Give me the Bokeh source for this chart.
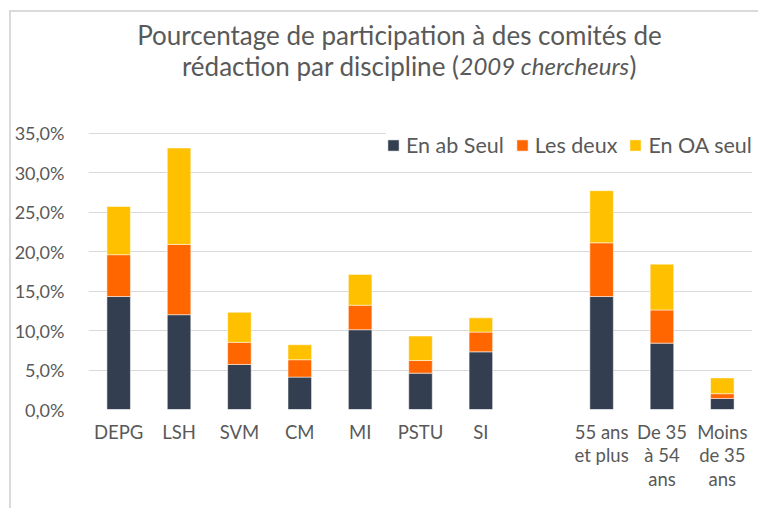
from bokeh.plotting import figure
from bokeh.models import FactorRange, Range1d, FixedTicker, Label
from bokeh.embed import file_html
from bokeh.resources import INLINE

# ---- data ----
categories = ["DEPG", "LSH", "SVM", "CM", "MI", "PSTU", "SI",
              "55 ans\net plus", "De 35\nà 54\nans", "Moins\nde 35\nans"]
gap_factor = " "
axis_factors = categories[:7] + [gap_factor] + categories[7:]

en_ab_seul = [14.3, 12.0, 5.7, 4.1, 10.1, 4.6, 7.3, 14.3, 8.4, 1.4]
les_deux = [5.3, 8.9, 2.8, 2.2, 3.1, 1.6, 2.5, 6.8, 4.2, 0.6]
en_oa_seul = [6.1, 12.2, 3.8, 1.9, 3.9, 3.1, 1.8, 6.6, 5.8, 2.0]

series_keys = ["en_ab_seul", "les_deux", "en_oa_seul"]
series_names = ["En ab Seul", "Les deux", "En OA seul"]
series_colors = ["#333F50", "#FF6600", "#FFC000"]

y_ticks = [0, 5, 10, 15, 20, 25, 30, 35]
y_tick_labels = ["0,0%", "5,0%", "10,0%", "15,0%", "20,0%", "25,0%", "30,0%", "35,0%"]

title_line1 = "Pourcentage de participation à des comités de"
title_line2_a = "rédaction par discipline ("
title_line2_b = "2009 chercheurs"
title_line2_c = ")"

FONT = "Lato"
TXT = "#595959"

# ---- layout (pixels) ----
W, H = 749, 498
BL, BR, BT, BB = 75, 8, 0, 101
FRAME_H = H - BT - BB          # 397
AXIS_PX = 276.5                # pixels from 0% to 35%
Y_MAX = y_ticks[-1]

data = dict(x=categories, en_ab_seul=en_ab_seul, les_deux=les_deux, en_oa_seul=en_oa_seul)

p = figure(
    width=W, height=H,
    x_range=FactorRange(factors=axis_factors),
    y_range=Range1d(0, Y_MAX * FRAME_H / AXIS_PX),
    output_backend="svg", toolbar_location=None,
    min_border_left=BL, min_border_right=BR, min_border_top=BT, min_border_bottom=BB,
    styles={"margin-left": "9px", "margin-top": "10px",
            "border-top": "2px solid #DADADA", "border-left": "2px solid #DADADA"},
)

p.vbar_stack(series_keys, x="x", width=0.39, source=data, color=series_colors,
             line_color="white", line_alpha=0.5, line_width=1,
             legend_label=series_names)

p.outline_line_color = None
p.background_fill_color = "white"
p.border_fill_color = "white"

p.xgrid.grid_line_color = None
p.ygrid.grid_line_color = "#D9D9D9"
p.ygrid.grid_line_width = 1
p.ygrid.ticker = FixedTicker(ticks=y_ticks)
p.ygrid.bounds = (0, Y_MAX)

p.yaxis.ticker = FixedTicker(ticks=y_ticks)
p.yaxis.major_label_overrides = {t: l for t, l in zip(y_ticks, y_tick_labels)}
p.yaxis.axis_line_color = None
p.yaxis.major_tick_line_color = None
p.yaxis.minor_tick_line_color = None
p.yaxis.major_label_standoff = 18
p.yaxis.major_label_text_font = FONT
p.yaxis.major_label_text_font_size = "18px"
p.yaxis.major_label_text_color = TXT

p.xaxis.axis_line_color = None
p.xaxis.major_tick_line_color = None
p.xaxis.minor_tick_line_color = None
p.xaxis.major_label_standoff = 5
p.xaxis.major_label_text_font = FONT
p.xaxis.major_label_text_font_size = "18.5px"
p.xaxis.major_label_text_line_height = 1.08
p.xaxis.major_label_text_color = TXT

lg = p.legend[0]
lg.location = (298, 251)
lg.orientation = "horizontal"
lg.background_fill_color = "white"
lg.background_fill_alpha = 1
lg.border_line_color = None
lg.padding = 1
lg.margin = 0
lg.spacing = 11
lg.label_standoff = 6
lg.glyph_width = 14
lg.glyph_height = 14
lg.label_text_font = FONT
lg.label_text_font_size = "21.5px"
lg.label_text_color = TXT

title_kw = dict(x_units="screen", y_units="screen", text_baseline="alphabetic",
                text_font=FONT, text_color=TXT)
p.add_layout(Label(x=311, y=375, text=title_line1, text_align="center",
                   text_font_size="26px", **title_kw))
p.add_layout(Label(x=371, y=344, text=title_line2_a, text_align="right",
                   text_font_size="26px", **title_kw))
p.add_layout(Label(x=371, y=344, text=title_line2_b, text_align="left",
                   text_font_style="italic", text_font_size="24px", **title_kw))
p.add_layout(Label(x=541, y=344, text=title_line2_c, text_align="left",
                   text_font_size="26px", **title_kw))

open("out.html", "w").write(file_html(p, INLINE))
